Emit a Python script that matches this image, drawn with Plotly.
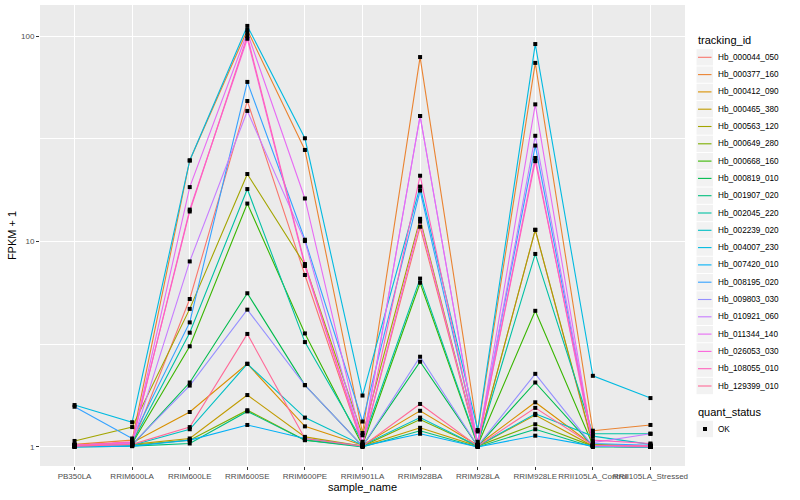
import plotly.graph_objects as go

samples = ["PB350LA", "RRIM600LA", "RRIM600LE", "RRIM600SE", "RRIM600PE", "RRIM901LA",
           "RRIM928BA", "RRIM928LA", "RRIM928LE", "RRII105LA_Control", "RRII105LA_Stressed"]

hb_000044_050 = [1.02, 1.03, 5.25, 48.3, 6.87, 1.02, 11.8, 1.02, 11.4, 1.01, 1.01]
hb_000377_160 = [1.03, 1.08, 24.8, 107, 27.9, 1.17, 79, 1.19, 74, 1.2, 1.28]
hb_000412_090 = [1.02, 1.05, 1.48, 2.54, 1.26, 1.02, 1.5, 1.02, 1.65, 1.02, 1.01]
hb_000465_380 = [1.01, 1.03, 1.1, 1.79, 1.12, 1.01, 1.24, 1.01, 1.43, 1.01, 1.0]
hb_000563_120 = [1.07, 1.25, 4.7, 21.3, 7.7, 1.14, 12.9, 1.02, 11.4, 1.03, 1.01]
hb_000649_280 = [1.01, 1.02, 1.08, 1.51, 1.08, 1.01, 1.36, 1.01, 1.29, 1.01, 1.0]
hb_000668_160 = [1.01, 1.04, 3.09, 15.3, 3.57, 1.02, 6.3, 1.02, 4.6, 1.02, 1.01]
hb_000819_010 = [1.01, 1.02, 2.06, 5.6, 2.0, 1.01, 2.6, 1.01, 2.06, 1.01, 1.0]
hb_001907_020 = [1.0, 1.01, 1.04, 1.49, 1.08, 1.0, 1.2, 1.0, 1.22, 1.0, 1.0]
hb_002045_220 = [1.02, 1.05, 3.6, 18.0, 3.24, 1.06, 6.6, 1.03, 8.7, 1.16, 1.16]
hb_002239_020 = [1.01, 1.02, 1.22, 2.54, 1.39, 1.02, 1.39, 1.01, 1.45, 1.13, 1.03]
hb_004007_230 = [1.6, 1.32, 24.8, 112, 31.8, 1.78, 18.5, 1.21, 91.4, 2.22, 1.73]
hb_007420_010 = [1.0, 1.01, 1.08, 1.28, 1.1, 1.01, 1.16, 1.0, 1.135, 1.01, 1.0]
hb_008195_020 = [1.57, 1.1, 4.04, 59.8, 10.2, 1.33, 17.7, 1.06, 29.3, 1.04, 1.02]
hb_009803_030 = [1.01, 1.03, 1.99, 4.66, 2.0, 1.01, 2.75, 1.01, 2.27, 1.01, 1.0]
hb_010921_060 = [1.02, 1.04, 8.0, 43.2, 10.05, 1.02, 40.8, 1.02, 32.7, 1.05, 1.16]
hb_011344_140 = [1.02, 1.05, 18.4, 104, 16.2, 1.03, 40.8, 1.02, 46.5, 1.02, 1.01]
hb_026053_030 = [1.02, 1.05, 14.3, 97, 7.6, 1.02, 12.5, 1.02, 25.5, 1.02, 1.01]
hb_108055_010 = [1.02, 1.06, 14.0, 100, 7.77, 1.03, 20.9, 1.02, 24.6, 1.08, 1.04]
hb_129399_010 = [1.01, 1.03, 1.25, 3.55, 1.1, 1.01, 1.62, 1.01, 1.55, 1.02, 1.01]

tracking_ids = ["Hb_000044_050", "Hb_000377_160", "Hb_000412_090", "Hb_000465_380",
                "Hb_000563_120", "Hb_000649_280", "Hb_000668_160", "Hb_000819_010",
                "Hb_001907_020", "Hb_002045_220", "Hb_002239_020", "Hb_004007_230",
                "Hb_007420_010", "Hb_008195_020", "Hb_009803_030", "Hb_010921_060",
                "Hb_011344_140", "Hb_026053_030", "Hb_108055_010", "Hb_129399_010"]
series_values = [hb_000044_050, hb_000377_160, hb_000412_090, hb_000465_380,
                 hb_000563_120, hb_000649_280, hb_000668_160, hb_000819_010,
                 hb_001907_020, hb_002045_220, hb_002239_020, hb_004007_230,
                 hb_007420_010, hb_008195_020, hb_009803_030, hb_010921_060,
                 hb_011344_140, hb_026053_030, hb_108055_010, hb_129399_010]
colors = ["#F8766D", "#EA8331", "#D89000", "#C09B00", "#A3A500", "#7CAE00", "#39B600",
          "#00BB4E", "#00BF7D", "#00C1A3", "#00BFC4", "#00BAE0", "#00B0F6", "#35A2FF",
          "#9590FF", "#C77CFF", "#E76BF3", "#FA62DB", "#FF62BC", "#FF6A98"]
quant_status = ["OK"]

W, H = 800, 500
ML, MR, MT, MB = 40, 115, 5, 34
PW, PH = W - ML - MR, H - MT - MB


def pxx(x):
    return (x - ML) / PW


def pxy(y):
    return (H - MB - y) / PH


fig = go.Figure()
for name, vals, col in zip(tracking_ids, series_values, colors):
    fig.add_trace(go.Scatter(x=samples, y=vals, mode="lines", name=name,
                             line=dict(color=col, width=1.1), showlegend=False))

all_x, all_y = [], []
for vals in series_values:
    all_x += samples
    all_y += vals
fig.add_trace(go.Scatter(x=all_x, y=all_y, mode="markers", name=quant_status[0],
                         marker=dict(color="black", symbol="square", size=4),
                         showlegend=False))

font_family = "Liberation Sans, Arial, sans-serif"
shapes, annotations = [], []

annotations.append(dict(text="tracking_id", xref="paper", yref="paper",
                        x=pxx(696), y=pxy(40.5), xanchor="left", yanchor="middle",
                        showarrow=False, font=dict(size=11, color="black")))
step = 17.3
y0 = 57.3
for i, (name, col) in enumerate(zip(tracking_ids, colors)):
    cy = y0 + i * step
    shapes.append(dict(type="rect", xref="paper", yref="paper",
                       x0=pxx(696.5), x1=pxx(713), y0=pxy(cy - step / 2 + 0.5), y1=pxy(cy + step / 2 - 0.5),
                       fillcolor="#F2F2F2", line=dict(width=0), layer="below"))
    shapes.append(dict(type="line", xref="paper", yref="paper",
                       x0=pxx(698), x1=pxx(711.5), y0=pxy(cy), y1=pxy(cy),
                       line=dict(color=col, width=1.1)))
    annotations.append(dict(text=name, xref="paper", yref="paper",
                            x=pxx(716.5), y=pxy(cy), xanchor="left", yanchor="middle",
                            showarrow=False, font=dict(size=8.2, color="black")))

annotations.append(dict(text="quant_status", xref="paper", yref="paper",
                        x=pxx(696), y=pxy(412), xanchor="left", yanchor="middle",
                        showarrow=False, font=dict(size=11, color="black")))
cy = 429
shapes.append(dict(type="rect", xref="paper", yref="paper",
                   x0=pxx(696.5), x1=pxx(713), y0=pxy(cy - step / 2 + 0.5), y1=pxy(cy + step / 2 - 0.5),
                   fillcolor="#F2F2F2", line=dict(width=0), layer="below"))
shapes.append(dict(type="rect", xref="paper", yref="paper",
                   x0=pxx(703), x1=pxx(707), y0=pxy(cy - 2), y1=pxy(cy + 2),
                   fillcolor="black", line=dict(width=0)))
annotations.append(dict(text=quant_status[0], xref="paper", yref="paper",
                        x=pxx(716.5), y=pxy(cy), xanchor="left", yanchor="middle",
                        showarrow=False, font=dict(size=8.2, color="black")))

fig.update_layout(
    width=W, height=H,
    margin=dict(l=ML, r=MR, t=MT, b=MB),
    paper_bgcolor="white", plot_bgcolor="#EBEBEB",
    font=dict(family=font_family, size=9, color="black"),
    showlegend=False,
    shapes=shapes, annotations=annotations,
)
fig.update_xaxes(
    type="category", categoryorder="array", categoryarray=samples,
    range=[-0.6, 10.6], tickangle=0, automargin=False,
    showgrid=True, gridcolor="white", gridwidth=1.1,
    ticks="outside", ticklen=3, tickcolor="#333333",
    tickfont=dict(size=8, color="#4D4D4D"), ticklabelstandoff=-1,
    title=dict(text="sample_name", font=dict(size=11), standoff=2),
    zeroline=False, showline=False,
)
fig.update_yaxes(
    type="log", range=[-0.0925, 2.151], automargin=False,
    tickvals=[1, 10, 100], ticktext=["1", "10", "100"],
    showgrid=True, gridcolor="white", gridwidth=1.1,
    minor=dict(tickvals=[3.1623, 31.623], showgrid=True, gridcolor="white", gridwidth=0.5, ticks=""),
    ticks="outside", ticklen=3, tickcolor="#333333",
    tickfont=dict(size=8, color="#4D4D4D"),
    title=dict(text="FPKM + 1", font=dict(size=11), standoff=2),
    zeroline=False, showline=False,
)
fig.write_html("out.html", config={"displayModeBar": False},
               post_script="document.body.style.margin='0';document.body.style.overflow='hidden';")
